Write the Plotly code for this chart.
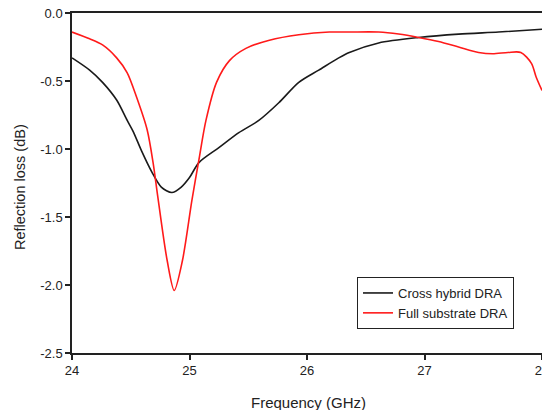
import plotly.graph_objects as go

# Cross hybrid DRA
freq_cross = [24.00, 24.15, 24.26, 24.38, 24.47, 24.52, 24.59, 24.68, 24.76, 24.85, 24.93,
              25.00, 25.08, 25.25, 25.42, 25.59, 25.76, 25.93, 26.10, 26.27, 26.36,
              26.61, 26.95, 27.29, 27.63, 28.00]
rl_cross = [-0.33, -0.42, -0.51, -0.64, -0.79, -0.87, -1.01, -1.17, -1.28, -1.32, -1.28,
            -1.21, -1.10, -0.99, -0.88, -0.79, -0.66, -0.51, -0.42, -0.33, -0.29,
            -0.22, -0.18, -0.155, -0.14, -0.12]

# Full substrate DRA
freq_full = [24.00, 24.15, 24.26, 24.38, 24.47, 24.55, 24.64, 24.69, 24.73, 24.81, 24.87,
             24.94, 25.02, 25.08, 25.14, 25.23, 25.34, 25.48, 25.68, 25.93, 26.19,
             26.36, 26.61, 26.78, 26.95, 27.12, 27.29, 27.46, 27.58, 27.71, 27.82,
             27.91, 27.95, 28.00]
rl_full = [-0.14, -0.19, -0.235, -0.33, -0.44, -0.62, -0.86, -1.10, -1.35, -1.82, -2.04,
           -1.82, -1.38, -1.08, -0.79, -0.51, -0.35, -0.26, -0.20, -0.16, -0.14,
           -0.14, -0.14, -0.155, -0.18, -0.21, -0.25, -0.29, -0.30, -0.29, -0.29,
           -0.37, -0.47, -0.57]

x_ticks = [24, 25, 26, 27, 28]
y_ticks = [0.0, -0.5, -1.0, -1.5, -2.0, -2.5]
y_tick_text = ["0.0", "-0.5", "-1.0", "-1.5", "-2.0", "-2.5"]

FONT = "Liberation Sans, Arial, sans-serif"
INK = "#222"

fig = go.Figure()
fig.add_trace(go.Scatter(x=freq_cross, y=rl_cross, mode="lines", name="Cross hybrid DRA",
                         line=dict(color="#1a1a1a", width=1.6, shape="spline", smoothing=0.8)))
fig.add_trace(go.Scatter(x=freq_full, y=rl_full, mode="lines", name="Full substrate DRA",
                         line=dict(color="#ff1a1a", width=1.6, shape="spline", smoothing=0.8)))

axis_common = dict(showgrid=False, zeroline=False, showline=True, linecolor=INK, linewidth=1.5,
                   mirror=True, ticks="outside", ticklen=5, tickcolor=INK, tickwidth=1.5,
                   automargin=False, ticklabeloverflow="allow")

fig.update_layout(
    width=542, height=410,
    margin=dict(l=72, r=0, t=13, b=57, autoexpand=False),
    paper_bgcolor="white", plot_bgcolor="white",
    font=dict(family=FONT, size=13, color=INK),
    showlegend=True,
    legend=dict(x=(357 - 72) / 470, y=(353 - 277) / 340, xanchor="left", yanchor="top",
                bordercolor=INK, borderwidth=1, bgcolor="white",
                font=dict(size=13, color=INK), tracegroupgap=0),
    xaxis=dict(range=[24, 28], tickvals=x_ticks, ticktext=[str(t) for t in x_ticks], **axis_common),
    yaxis=dict(range=[-2.5, 0.0], tickvals=y_ticks, ticktext=y_tick_text, **axis_common),
)

# Axis titles
fig.add_annotation(x=(308 - 72) / 470, y=0, xref="paper", yref="paper", text="Frequency (GHz)",
                   showarrow=False, xanchor="center", yanchor="middle", yshift=-49,
                   font=dict(size=15, color=INK))
fig.add_annotation(x=0, y=(353 - 187) / 340, xref="paper", yref="paper", text="Reflection loss (dB)",
                   showarrow=False, xanchor="center", yanchor="middle", xshift=-52, textangle=-90,
                   font=dict(size=14.5, color=INK))

fig.write_html("out.html", config={"displayModeBar": False},
               post_script="document.body.style.margin='0';document.body.style.overflow='hidden';")
